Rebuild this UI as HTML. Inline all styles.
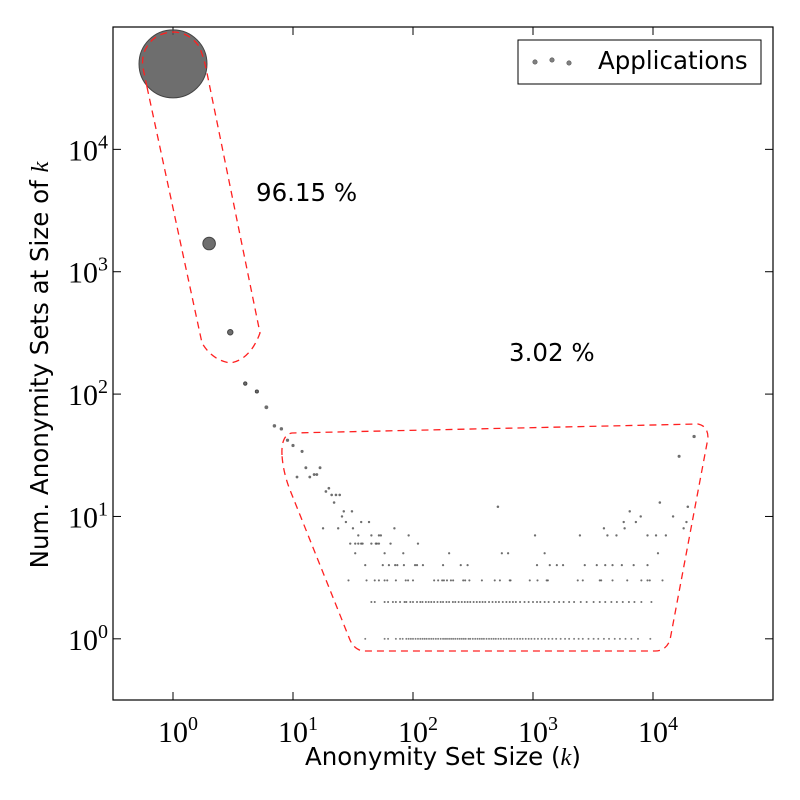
<!DOCTYPE html>
<html><head><meta charset="utf-8"><style>
html,body{margin:0;padding:0;background:#fff}
svg{display:block}
.tl{font-family:"Liberation Serif",serif;font-size:30px;fill:#000}
.sup{font-size:20px}
.ax{font-family:"DejaVu Sans","Liberation Sans",sans-serif;font-size:24.5px;fill:#000}
</style></head><body>
<svg id="chart" width="800" height="800" viewBox="0 0 800 800" xmlns="http://www.w3.org/2000/svg">
<rect x="0" y="0" width="800" height="800" fill="#fff"/>
<g id="ticks"></g>
<g id="points"></g>
<path d="M147,87 L202,343 Q212,360 230,363 Q250,360 260,333 L207,73 Q203,53 198,45 Q188,32 173,32 Q156,33 148,45 Q141,55 143,68 Z" fill="none" stroke="#ff2020" stroke-width="1.3" stroke-dasharray="7,5"/>
<path d="M282,455 Q281,435 292,433 L698,424 Q708,426 708,438 L670,640 Q666,651 655,651 L365,651 Q355,651 350,640 L290,490 Q283,472 282,455 Z" fill="none" stroke="#ff2020" stroke-width="1.3" stroke-dasharray="7,5"/>
<rect x="113" y="27" width="660" height="673" fill="none" stroke="#000" stroke-width="1.2"/>
<text x="256" y="201" class="ax">96.15 %</text>
<text x="509" y="361" class="ax">3.02 %</text>
<g>
<rect x="518" y="40" width="243" height="44" fill="#fff" stroke="#000" stroke-width="1"/>
<circle cx="535" cy="62" r="2.2" fill="#808080" stroke="#555" stroke-width="0.6"/>
<circle cx="552" cy="60" r="2.2" fill="#808080" stroke="#555" stroke-width="0.6"/>
<circle cx="569" cy="63" r="2.2" fill="#808080" stroke="#555" stroke-width="0.6"/>
<text x="598" y="69" class="ax">Applications</text>
</g>
<text x="443" y="765" text-anchor="middle" class="ax">Anonymity Set Size (<tspan font-family="Liberation Serif" font-style="italic">k</tspan>)</text>
<text transform="translate(48,365) rotate(-90)" text-anchor="middle" class="ax">Num. Anonymity Sets at Size of <tspan font-family="Liberation Serif" font-style="italic">k</tspan></text>
</svg>
<script>
const xTicks = [0, 1, 2, 3, 4];
const yTicks = [0, 1, 2, 3, 4];
const headK = [1, 2, 3, 4, 5, 6, 7, 8, 9, 10, 10.8, 11.9, 12.8, 13.8, 15, 15.8, 16.8, 17.8, 18.8, 19.9, 21, 22, 22.8, 23.8, 24.5, 25.6, 26.5, 27.6, 31, 31.6, 37, 43, 70, 510, 3900, 5700, 5800, 6400, 7200, 7900, 11400, 14700, 16500, 18000, 19000, 19500, 22000];
const headCount = [50000, 1700, 320, 122, 105, 78, 55, 52, 42, 38, 21, 34, 25, 21, 22, 22, 25, 8, 16, 17, 15, 13, 15, 8, 15, 10, 11, 9, 11, 8, 9, 9, 8, 12, 8, 9, 8, 11, 9, 10, 13, 10, 31, 8, 9, 12, 45];
const lvl7K = [35, 45, 52, 54, 92, 1040, 2460, 4170, 4960, 9000, 10600, 12800];
const lvl6K = [30, 33, 35, 37, 38, 45, 49, 50, 52, 65, 110];
const lvl5K = [33, 58, 83, 200, 550, 620, 1250, 11000];
const lvl4K = [40, 56, 63, 71, 74, 84, 104, 108, 121, 178, 250, 285, 1080, 1380, 1580, 1780, 2700, 3400, 4000, 4600, 5500, 6900, 9000];
const lvl3K = [29, 41, 48, 52, 58, 61, 72, 87, 91, 100, 150, 162, 175, 181, 192, 207, 216, 262, 272, 295, 375, 480, 530, 650, 640, 940, 1090, 1300, 1330, 2360, 2600, 3600, 3700, 4600, 6100, 8000, 9000, 9400, 12000];
const lvl2K = [45, 48, 58, 62, 68, 72, 78, 85, 88, 95, 100, 108, 115, 120, 128, 135, 142, 150, 160, 170, 178, 190, 200, 215, 225, 240, 255, 270, 285, 300, 320, 340, 360, 380, 400, 430, 460, 490, 520, 560, 600, 640, 680, 720, 780, 850, 920, 1000, 1080, 1150, 1250, 1350, 1500, 1650, 1800, 2000, 2200, 2500, 2800, 3200, 3600, 4000, 4500, 5000, 5600, 6300, 7000, 8000, 9700];
const lvl1K = [40, 58, 62, 72, 78, 82, 88, 92, 96, 100, 105, 110, 115, 120, 125, 130, 136, 142, 148, 155, 162, 170, 178, 185, 192, 200, 208, 216, 225, 235, 245, 255, 265, 275, 290, 300, 315, 330, 345, 360, 375, 390, 410, 430, 450, 470, 490, 515, 540, 570, 600, 630, 660, 700, 740, 780, 820, 870, 920, 970, 1030, 1100, 1180, 1260, 1350, 1450, 1560, 1700, 1850, 2000, 2200, 2400, 2600, 2900, 3200, 3500, 3900, 4300, 4800, 5300, 5900, 6600, 7500, 9500];

const NS = "http://www.w3.org/2000/svg";
const X0 = 113, X1 = 773, Y0 = 700, Y1 = 27;
const xMin = -0.5, xMax = 5, yMin = -0.5, yMax = 5;
function xs(k) { return X0 + (Math.log10(k) - xMin) / (xMax - xMin) * (X1 - X0); }
function ys(c) { return Y0 - (Math.log10(c) - yMin) / (yMax - yMin) * (Y0 - Y1); }

const tg = document.getElementById('ticks');
function line(x1, y1, x2, y2) {
  const l = document.createElementNS(NS, 'line');
  l.setAttribute('x1', x1); l.setAttribute('y1', y1); l.setAttribute('x2', x2); l.setAttribute('y2', y2);
  l.setAttribute('stroke', '#000'); l.setAttribute('stroke-width', '1');
  
  
  tg.appendChild(l);
}
function label(x, y, e, anchor, name) {
  const t = document.createElementNS(NS, 'text');
  t.setAttribute('x', x); t.setAttribute('y', y); t.setAttribute('class', 'tl'); t.setAttribute('text-anchor', anchor);
  
  
  t.innerHTML = '10<tspan class="sup" dy="-12">' + e + '</tspan>';
  tg.appendChild(t);
}
xTicks.forEach(e => {
  const x = xs(Math.pow(10, e));
  line(x, Y0, x, Y0 - 8); line(x, Y1, x, Y1 + 8);
  label(x + 5, 742, e, 'middle', 'x-tick-label');
});
yTicks.forEach(e => {
  const y = ys(Math.pow(10, e));
  line(X0, y, X0 + 8, y); line(X1, y, X1 - 8, y);
  label(108, y + 11, e, 'end', 'y-tick-label');
});

const pg = document.getElementById('points');
function dot(k, c) {
  const p = document.createElementNS(NS, 'circle');
  p.setAttribute('cx', xs(k)); p.setAttribute('cy', ys(c));
  const r = c > 100 ? 0.152 * Math.sqrt(c) : 0.85 + 0.12 * Math.sqrt(c);
  p.setAttribute('r', r);
  p.setAttribute('fill', c > 1 ? '#555' : '#666');
  p.setAttribute('fill-opacity', '0.85');
  p.setAttribute('stroke', '#444'); p.setAttribute('stroke-width', c > 100 ? '1' : '0');
  
  
  pg.appendChild(p);
}
headK.forEach((k, i) => dot(k, headCount[i]));
lvl7K.forEach(k => dot(k, 7));
lvl6K.forEach(k => dot(k, 6));
lvl5K.forEach(k => dot(k, 5));
lvl4K.forEach(k => dot(k, 4));
lvl3K.forEach(k => dot(k, 3));
lvl2K.forEach(k => dot(k, 2));
lvl1K.forEach(k => dot(k, 1));
</script>
</body></html>
